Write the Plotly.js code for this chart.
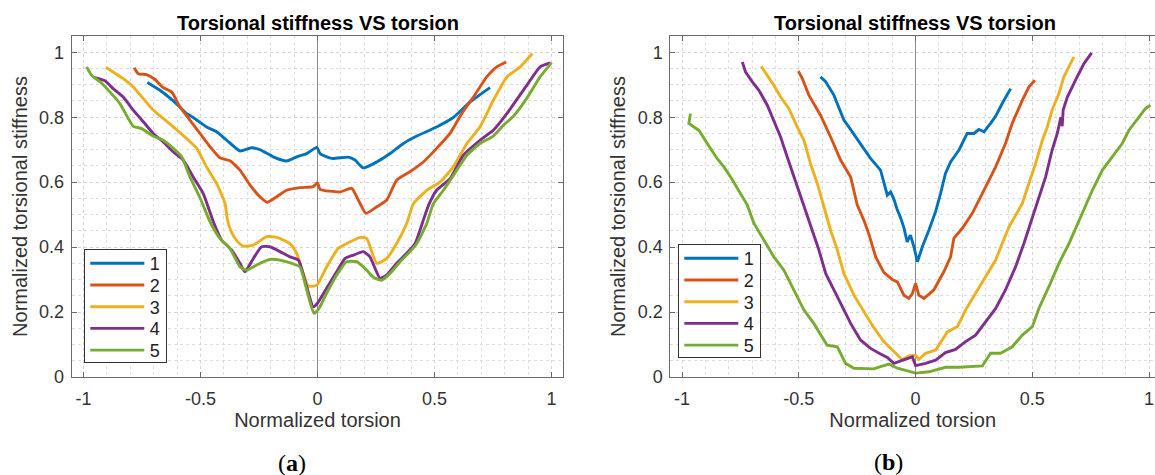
<!DOCTYPE html>
<html>
<head>
<meta charset="utf-8">
<script src="https://cdn.plot.ly/plotly-3.0.1.min.js"></script>
<style>
html,body{margin:0;padding:0;background:#fff;}
#chart{width:1155px;height:475px;}
</style>
</head>
<body>
<div id="chart"></div>
<script>
// ---------- data ----------
const seriesNames = ['1','2','3','4','5'];
const seriesColors = ['#0072BD','#D95319','#EDB120','#7E2F8E','#77AC30'];
const xTickVals = [-1,-0.5,0,0.5,1];
const xTickText = ['-1','-0.5','0','0.5','1'];
const yTickVals = [0,0.2,0.4,0.6,0.8,1];
const yTickText = ['0','0.2','0.4','0.6','0.8','1'];
const panelTitle = 'Torsional stiffness VS torsion';
const xLabel = 'Normalized torsion';
const yLabel = 'Normalized torsional stiffness';
const captions = ['(<b>a</b>)','(<b>b</b>)'];

// panel (a)
const a1x = [-0.727,-0.673,-0.616,-0.559,-0.531,-0.474,-0.431,-0.388,-0.331,-0.281,-0.246,-0.189,-0.132,-0.089,-0.046,-0.003,0.011,0.061,0.132,0.160,0.196,0.253,0.310,0.367,0.424,0.509,0.580,0.652,0.737];
const a1y = [0.907,0.883,0.850,0.811,0.799,0.770,0.755,0.729,0.696,0.706,0.700,0.678,0.665,0.678,0.688,0.707,0.688,0.673,0.677,0.668,0.644,0.662,0.688,0.719,0.742,0.770,0.799,0.847,0.891];
const a2x = [-0.783,-0.766,-0.730,-0.694,-0.659,-0.623,-0.588,-0.545,-0.502,-0.459,-0.417,-0.374,-0.331,-0.288,-0.246,-0.215,-0.174,-0.132,-0.075,-0.018,0.0,0.011,0.096,0.146,0.182,0.207,0.253,0.296,0.338,0.395,0.452,0.509,0.566,0.616,0.666,0.723,0.766,0.806];
const a2y = [0.952,0.934,0.931,0.916,0.891,0.878,0.832,0.791,0.750,0.709,0.675,0.666,0.637,0.591,0.555,0.538,0.555,0.575,0.583,0.586,0.598,0.578,0.570,0.581,0.534,0.504,0.524,0.545,0.606,0.632,0.662,0.704,0.750,0.811,0.862,0.924,0.955,0.970];
const a3x = [-0.904,-0.873,-0.830,-0.787,-0.744,-0.702,-0.659,-0.616,-0.559,-0.516,-0.474,-0.431,-0.395,-0.385,-0.370,-0.345,-0.317,-0.274,-0.217,-0.174,-0.118,-0.089,-0.039,-0.003,0.039,0.089,0.139,0.182,0.210,0.253,0.296,0.338,0.381,0.410,0.467,0.524,0.580,0.638,0.694,0.751,0.809,0.866,0.918];
const a3y = [0.953,0.939,0.919,0.893,0.857,0.822,0.796,0.770,0.734,0.704,0.647,0.596,0.534,0.485,0.450,0.420,0.403,0.406,0.432,0.430,0.411,0.381,0.280,0.283,0.339,0.396,0.416,0.430,0.427,0.350,0.365,0.411,0.473,0.534,0.575,0.601,0.647,0.719,0.770,0.852,0.924,0.955,0.996];
const a4x = [-0.951,-0.908,-0.873,-0.830,-0.787,-0.744,-0.702,-0.659,-0.616,-0.574,-0.531,-0.488,-0.445,-0.410,-0.367,-0.331,-0.310,-0.274,-0.239,-0.203,-0.160,-0.118,-0.082,-0.046,-0.018,0.0,0.039,0.082,0.118,0.153,0.196,0.224,0.267,0.296,0.338,0.381,0.417,0.452,0.475,0.509,0.566,0.623,0.694,0.751,0.809,0.894,0.951,0.994];
const a4y = [0.922,0.912,0.888,0.862,0.822,0.786,0.750,0.724,0.693,0.668,0.616,0.565,0.478,0.422,0.391,0.350,0.324,0.365,0.401,0.401,0.386,0.370,0.360,0.278,0.216,0.227,0.273,0.324,0.365,0.375,0.386,0.370,0.304,0.314,0.350,0.381,0.411,0.483,0.530,0.575,0.611,0.683,0.729,0.760,0.811,0.898,0.955,0.967];
const a5x = [-0.986,-0.965,-0.929,-0.887,-0.844,-0.787,-0.751,-0.702,-0.659,-0.616,-0.580,-0.545,-0.502,-0.459,-0.417,-0.374,-0.331,-0.303,-0.260,-0.203,-0.160,-0.103,-0.075,-0.046,-0.015,0.004,0.039,0.082,0.124,0.168,0.210,0.239,0.274,0.310,0.353,0.395,0.424,0.467,0.495,0.538,0.595,0.638,0.694,0.751,0.794,0.837,0.894,0.951,1.0];
const a5y = [0.955,0.929,0.909,0.878,0.842,0.772,0.765,0.742,0.729,0.704,0.678,0.616,0.552,0.478,0.427,0.396,0.339,0.329,0.345,0.362,0.360,0.348,0.339,0.268,0.196,0.208,0.258,0.314,0.355,0.355,0.329,0.307,0.298,0.319,0.355,0.386,0.411,0.473,0.534,0.575,0.637,0.683,0.719,0.742,0.775,0.803,0.858,0.924,0.968];

// panel (b)
const b1x = [-0.407,-0.385,-0.350,-0.307,-0.286,-0.236,-0.193,-0.150,-0.121,-0.107,-0.093,-0.078,-0.064,-0.050,-0.036,-0.022,-0.007,0.008,0.029,0.057,0.071,0.086,0.107,0.128,0.150,0.186,0.221,0.250,0.271,0.293,0.321,0.343,0.371,0.407];
const b1y = [0.924,0.909,0.868,0.791,0.770,0.719,0.673,0.637,0.560,0.570,0.548,0.514,0.490,0.460,0.416,0.437,0.401,0.355,0.401,0.452,0.483,0.510,0.565,0.627,0.662,0.699,0.750,0.750,0.762,0.755,0.781,0.803,0.842,0.888];
const b2x = [-0.502,-0.485,-0.457,-0.407,-0.364,-0.321,-0.278,-0.250,-0.220,-0.200,-0.171,-0.136,-0.100,-0.078,-0.050,-0.029,-0.014,0.0,0.014,0.036,0.078,0.121,0.150,0.164,0.200,0.243,0.257,0.300,0.343,0.385,0.414,0.457,0.485,0.511];
const b2y = [0.942,0.919,0.868,0.806,0.739,0.668,0.616,0.530,0.480,0.440,0.370,0.322,0.300,0.293,0.252,0.242,0.256,0.288,0.252,0.242,0.268,0.324,0.370,0.427,0.458,0.504,0.524,0.586,0.647,0.719,0.781,0.852,0.893,0.914];
const b3x = [-0.661,-0.635,-0.607,-0.578,-0.543,-0.507,-0.478,-0.450,-0.421,-0.393,-0.364,-0.335,-0.307,-0.264,-0.221,-0.179,-0.136,-0.093,-0.057,-0.029,0.0,0.014,0.043,0.086,0.114,0.136,0.179,0.214,0.257,0.300,0.343,0.371,0.400,0.430,0.457,0.485,0.514,0.543,0.564,0.585,0.614,0.635,0.657,0.678];
const b3y = [0.957,0.929,0.898,0.862,0.827,0.770,0.729,0.657,0.596,0.525,0.452,0.391,0.319,0.252,0.201,0.152,0.109,0.078,0.053,0.065,0.067,0.054,0.073,0.083,0.114,0.139,0.155,0.206,0.258,0.309,0.360,0.411,0.462,0.500,0.534,0.596,0.657,0.729,0.770,0.822,0.873,0.924,0.955,0.986];
const b4x = [-0.742,-0.728,-0.699,-0.671,-0.635,-0.607,-0.578,-0.550,-0.521,-0.493,-0.467,-0.443,-0.414,-0.385,-0.350,-0.314,-0.278,-0.236,-0.193,-0.150,-0.121,-0.093,-0.050,-0.014,0.0,0.043,0.086,0.128,0.171,0.214,0.257,0.300,0.343,0.385,0.428,0.464,0.500,0.528,0.557,0.585,0.607,0.622,0.628,0.632,0.650,0.685,0.721,0.754];
const b4y = [0.970,0.939,0.909,0.883,0.837,0.786,0.739,0.678,0.616,0.555,0.500,0.452,0.391,0.319,0.268,0.216,0.165,0.114,0.088,0.071,0.060,0.042,0.052,0.062,0.035,0.042,0.052,0.075,0.085,0.109,0.129,0.170,0.211,0.268,0.339,0.411,0.490,0.545,0.616,0.699,0.750,0.800,0.772,0.822,0.862,0.914,0.965,0.998];
const b5x = [-0.964,-0.971,-0.949,-0.928,-0.892,-0.850,-0.821,-0.792,-0.750,-0.721,-0.692,-0.650,-0.607,-0.564,-0.521,-0.478,-0.436,-0.400,-0.379,-0.335,-0.300,-0.264,-0.221,-0.179,-0.150,-0.114,-0.078,-0.036,0.0,0.057,0.128,0.186,0.243,0.286,0.321,0.364,0.414,0.457,0.500,0.528,0.571,0.614,0.657,0.700,0.721,0.757,0.800,0.842,0.885,0.914,0.957,0.985,1.006];
const b5y = [0.811,0.781,0.770,0.760,0.719,0.673,0.647,0.616,0.565,0.530,0.473,0.422,0.370,0.329,0.268,0.206,0.165,0.124,0.098,0.093,0.042,0.027,0.027,0.025,0.032,0.040,0.027,0.019,0.012,0.016,0.030,0.030,0.032,0.034,0.073,0.073,0.093,0.129,0.155,0.211,0.278,0.350,0.411,0.483,0.514,0.575,0.637,0.678,0.719,0.760,0.801,0.827,0.837];

const panelA = [[a1x,a1y],[a2x,a2y],[a3x,a3y],[a4x,a4y],[a5x,a5y]];
const panelB = [[b1x,b1y],[b2x,b2y],[b3x,b3y],[b4x,b4y],[b5x,b5y]];

// ---------- traces ----------
const traces = [];
panelA.forEach((s,i)=>traces.push({x:s[0],y:s[1],type:'scatter',mode:'lines',name:seriesNames[i],
  line:{color:seriesColors[i],width:2.9,shape:'spline',smoothing:0.5},xaxis:'x',yaxis:'y',legend:'legend'}));
panelB.forEach((s,i)=>traces.push({x:s[0],y:s[1],type:'scatter',mode:'lines',name:seriesNames[i],
  line:{color:seriesColors[i],width:2.9},xaxis:'x2',yaxis:'y2',legend:'legend2'}));

// ---------- layout ----------
const FONT = 'Liberation Sans, Arial, Helvetica, sans-serif';
const AX = '#6a6a6a';
function xAxis(domain, range, anchor){
  return {domain, range, anchor, tickmode:'array', tickvals:xTickVals, ticktext:xTickText,
    ticks:'inside', ticklen:5, tickcolor:AX, showline:true, linecolor:AX, linewidth:1, mirror:'ticks',
    showgrid:true, gridcolor:'#d4d4d4', griddash:'dot', gridwidth:1,
    minor:{dtick:0.1, tick0:0, showgrid:true, gridcolor:'#dedede', griddash:'dot', gridwidth:1},
    zeroline:true, zerolinecolor:'#8c8c8c', zerolinewidth:1,
    tickfont:{family:FONT,size:18,color:'#333'}, ticklabelstandoff:5,
    title:{text:xLabel, font:{family:FONT,size:20,color:'#333'}, standoff:5}, fixedrange:true};
}
function yAxis(domain, anchor){
  return {domain, range:[0,1.05], anchor, tickmode:'array', tickvals:yTickVals, ticktext:yTickText,
    ticks:'inside', ticklen:5, tickcolor:AX, showline:true, linecolor:AX, linewidth:1, mirror:'ticks',
    showgrid:true, gridcolor:'#d4d4d4', griddash:'dot', gridwidth:1,
    minor:{dtick:0.05, tick0:0, showgrid:true, gridcolor:'#dedede', griddash:'dot', gridwidth:1},
    zeroline:false,
    tickfont:{family:FONT,size:18,color:'#333'}, ticklabelstandoff:3,
    title:{text:yLabel, font:{family:FONT,size:20,color:'#333'}, standoff:6}, fixedrange:true};
}
const W=1155, H=475;
const yDom = [(H-377)/H, (H-36)/H];
const legendBase = {xanchor:'left', yanchor:'top', bgcolor:'#fff', bordercolor:'#333', borderwidth:1,
  font:{family:FONT,size:18,color:'#222'}, itemwidth:55, tracegroupgap:0};
// target legend boxes (left, top) and row geometry, in pixels
const legendBoxes = {legend:[84.3,249.3], legend2:[678.3,244.3]};
const legendRow = {first:14, step:21.7, height:113, lineStart:6, lineLen:54};

const layout = {
  width:W, height:H, margin:{l:0,r:0,t:0,b:0}, paper_bgcolor:'#fff', plot_bgcolor:'#fff',
  showlegend:true,
  xaxis: xAxis([71.7/W, 563.3/W], [-1.05,1.05], 'y'),
  yaxis: yAxis(yDom, 'x'),
  xaxis2: xAxis([670.4/W, 1], [-1.05, -1.05 + (W-670.4)/233.5], 'y2'),
  yaxis2: yAxis(yDom, 'x2'),
  legend: Object.assign({x:legendBoxes.legend[0]/W, y:(H-legendBoxes.legend[1])/H}, legendBase),
  legend2: Object.assign({x:legendBoxes.legend2[0]/W, y:(H-legendBoxes.legend2[1])/H}, legendBase),
  annotations:[
    {text:'<b>'+panelTitle+'</b>', xref:'paper', yref:'paper', x:317.5/W, y:(H-23)/H, xanchor:'center', yanchor:'middle', showarrow:false, font:{family:FONT,size:20,color:'#000'}},
    {text:'<b>'+panelTitle+'</b>', xref:'paper', yref:'paper', x:915.4/W, y:(H-23)/H, xanchor:'center', yanchor:'middle', showarrow:false, font:{family:FONT,size:20,color:'#000'}},
    {text:captions[0], xref:'paper', yref:'paper', x:292/W, y:(H-463)/H, xanchor:'center', yanchor:'middle', showarrow:false, font:{family:'Liberation Serif, DejaVu Serif, serif',size:24,color:'#000'}},
    {text:captions[1], xref:'paper', yref:'paper', x:888/W, y:(H-462)/H, xanchor:'center', yanchor:'middle', showarrow:false, font:{family:'Liberation Serif, DejaVu Serif, serif',size:24,color:'#000'}}
  ]
};

// compact legend rows and longer sample lines (MATLAB-style legend)
function tuneLegends(){
  try{
    const root = document.getElementById('chart').getBoundingClientRect();
    Object.keys(legendBoxes).forEach(id=>{
      const g = document.querySelector('g.'+id);
      if(!g) return;
      const bg = g.querySelector('rect.bg');
      const items = Array.from(g.querySelectorAll('g.traces'));
      items.forEach((it,i)=>{
        const m = /translate\(\s*([-\d.e]+)[ ,]+([-\d.e]+)\s*\)/.exec(it.getAttribute('transform')||'');
        const tx = m ? parseFloat(m[1]) : 0;
        const bgY = bg ? parseFloat(bg.getAttribute('y')||0) : 0;
        it.setAttribute('transform','translate('+tx+','+(bgY+legendRow.first+i*legendRow.step)+')');
      });
      if(bg) bg.setAttribute('height', legendRow.height);
      if(bg){
        const r = bg.getBoundingClientRect();
        const dx = legendBoxes[id][0] - (r.left-root.left);
        const dy = legendBoxes[id][1] - (r.top-root.top);
        const gm = /translate\(\s*([-\d.e]+)[ ,]+([-\d.e]+)\s*\)/.exec(g.getAttribute('transform')||'');
        const gx = gm?parseFloat(gm[1]):0, gy = gm?parseFloat(gm[2]):0;
        g.setAttribute('transform','translate('+(gx+dx)+','+(gy+dy)+')');
      }
      const bgr = bg.getBoundingClientRect();
      g.querySelectorAll('.legendlines path').forEach(p=>{
        const d = p.getAttribute('d')||'';
        const m = /M\s*([-\d.e]+)[ ,]+([-\d.e]+)\s*h\s*([-\d.e]+)/.exec(d);
        if(!m) return;
        const r = p.getBoundingClientRect();
        const x0 = parseFloat(m[1]);
        const nx = x0 + (bgr.left + legendRow.lineStart) - r.left;
        p.setAttribute('d','M'+nx+','+m[2]+'h'+legendRow.lineLen);
      });
      g.querySelectorAll('clipPath rect').forEach(c=>{ c.setAttribute('height', 400); });
    });
  }catch(e){ console.log(e); }
}

Plotly.newPlot('chart', traces, layout, {displayModeBar:false, staticPlot:true}).then(tuneLegends);
</script>
</body>
</html>
